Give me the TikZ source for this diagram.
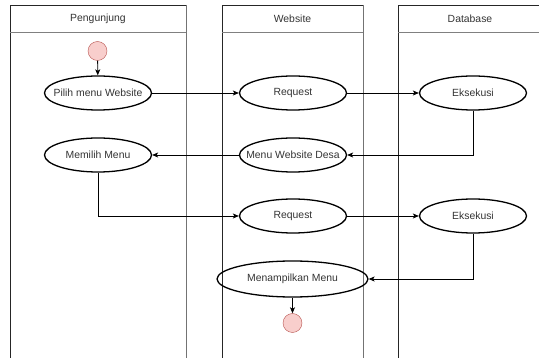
\documentclass[tikz,border=0pt]{standalone}
\usepackage{fontspec}
\setmainfont{Liberation Sans}
\usepackage{xcolor}
\usetikzlibrary{shapes.geometric,arrows.meta}

\definecolor{pinkfill}{HTML}{F8CECC}
\definecolor{pinkline}{HTML}{B85450}
\definecolor{txtgrey}{HTML}{333333}

\begin{document}
\begin{tikzpicture}[x=1pt,y=-1pt,
  act/.style={draw,line width=1.3pt,ellipse,minimum width=107pt,minimum height=34pt,inner xsep=-12pt,inner ysep=0pt,font=\fontsize{10.4}{12}\selectfont,text=txtgrey},
  dot/.style={circle,draw=pinkline,fill=pinkfill,minimum size=19pt,inner sep=0pt},
  flow/.style={line width=0.8pt,-{Stealth[length=6pt,width=5pt,inset=1.5pt]}},
  lanehead/.style={font=\fontsize{10.4}{12}\selectfont,text=txtgrey},
  laneleft/.style={line width=0.8pt,black!85},
  laneright/.style={line width=0.8pt,black!55},
  lanediv/.style={line width=0.8pt,black!50}]
\useasboundingbox (0,0) rectangle (539,358);

% swimlanes
\draw[laneleft] (10,358) -- (10,5) -- (186,5);
\draw[laneright] (186,5) -- (186,358);
\draw[lanediv] (10,32) -- (186,32);
\node[lanehead] (hPengunjung) at (98,18.5) {Pengunjung};

\draw[laneleft] (222,358) -- (222,5) -- (363,5);
\draw[laneright] (363,5) -- (363,358);
\draw[lanediv] (222,32) -- (363,32);
\node[lanehead] (hWebsite) at (292.5,18.5) {Website};

\draw[laneleft] (398,358) -- (398,5) -- (539,5);
\draw[lanediv] (398,32) -- (539,32);
\node[lanehead] (hDatabase) at (470,18.5) {Database};

% activities
\node[dot] (start) at (97.5,51) {};
\node[act] (pilih) at (98,93) {Pilih menu Website};
\node[act] (memilih) at (98,155) {Memilih Menu};
\node[act] (req1) at (293,93) {Request};
\node[act] (desa) at (293,155) {Menu Website Desa};
\node[act] (req2) at (293,216) {Request};
\node[act,minimum width=151pt,minimum height=36pt] (tampil) at (292.5,279) {Menampilkan Menu};
\node[dot] (end) at (292.5,323) {};
\node[act] (eks1) at (473,93) {Eksekusi};
\node[act] (eks2) at (473,216) {Eksekusi};

% flows
\draw[flow] (start) -- (pilih);
\draw[flow] (pilih) -- (req1);
\draw[flow] (req1) -- (eks1);
\draw[flow] (eks1.south) |- (desa.east);
\draw[flow] (desa) -- (memilih);
\draw[flow] (memilih.south) |- (req2.west);
\draw[flow] (req2) -- (eks2);
\draw[flow] (eks2.south) |- (tampil.east);
\draw[flow] (tampil) -- (end);
\end{tikzpicture}
\end{document}
